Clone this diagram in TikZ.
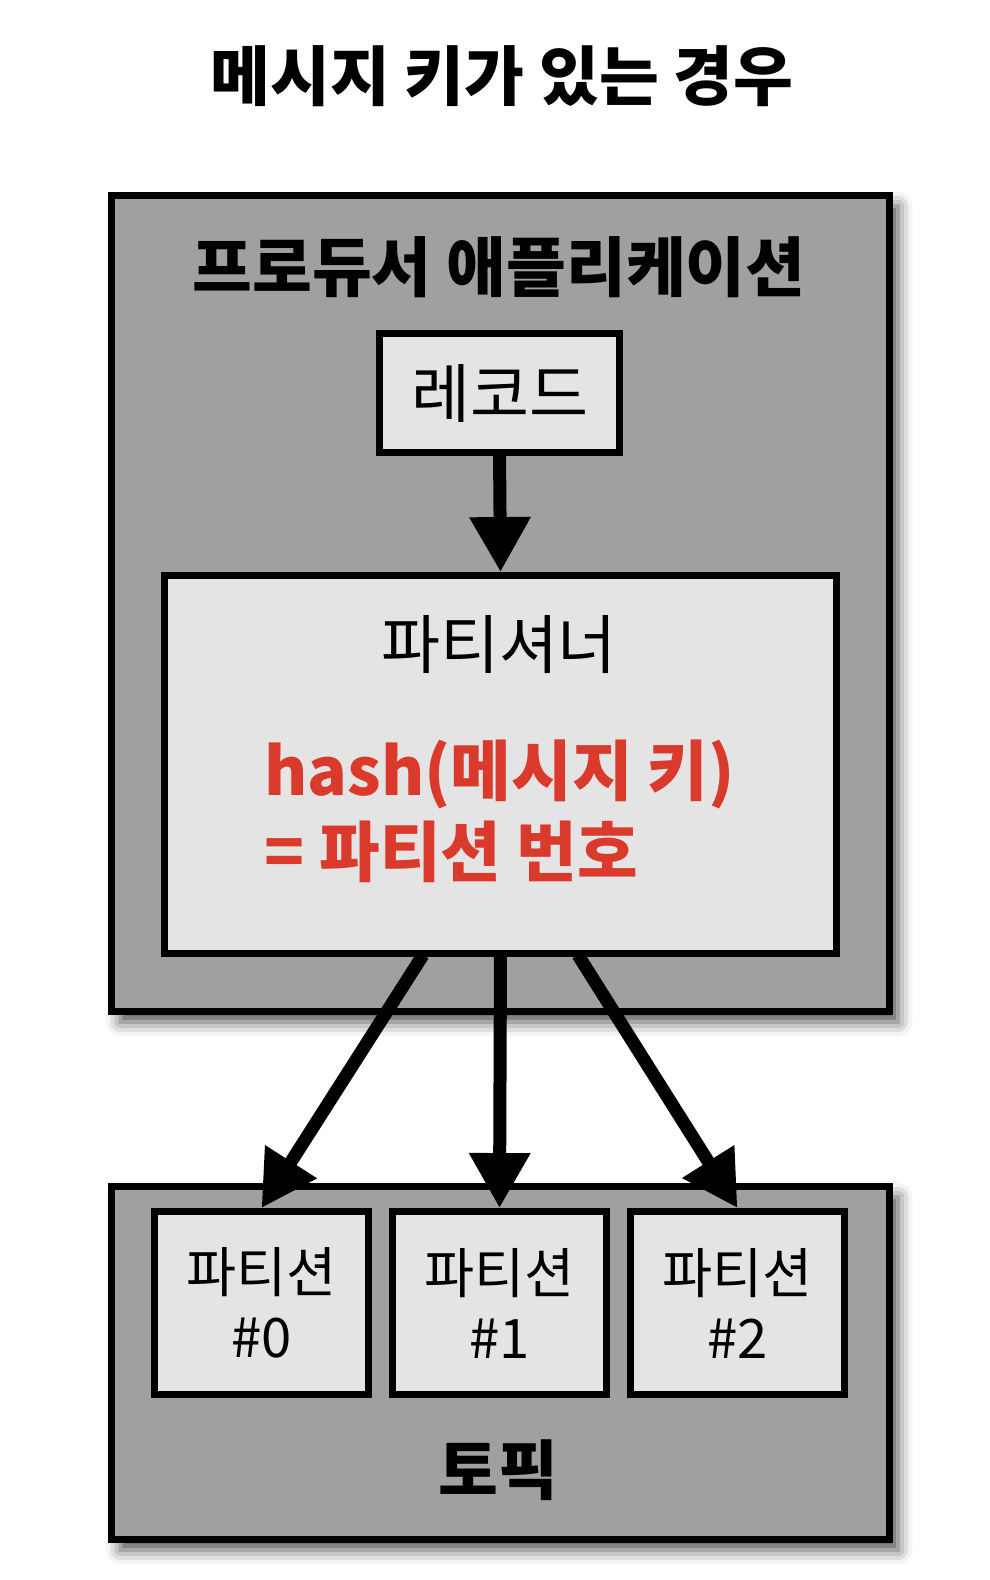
\documentclass[tikz,border=0pt]{standalone}
\usepackage{fontspec}
\setmainfont{Noto Sans CJK KR}
\usepackage{xcolor}
\usetikzlibrary{arrows.meta, positioning, shadows.blur}
\definecolor{boxgray}{HTML}{A0A0A0}
\definecolor{cellgray}{HTML}{E4E4E4}
\definecolor{hashred}{HTML}{D93A2B}

\begin{document}
\begin{tikzpicture}[
    x=0.02cm, y=-0.02cm,
    outerbox/.style={draw=black, line width=0.14cm, fill=boxgray, inner sep=0pt,
                     blur shadow={shadow xshift=5pt, shadow yshift=-6pt,
                                  shadow blur radius=8pt, shadow opacity=70}},
    cell/.style={draw=black, line width=0.14cm, fill=cellgray, inner sep=0pt},
    heading/.style={font=\fontsize{37}{42}\selectfont\bfseries},
    plain/.style={font=\fontsize{36.5}{42}\selectfont},
    small/.style={font=\fontsize{31}{37}\selectfont, align=center},
    hashtext/.style={font=\fontsize{37.5}{44}\selectfont\bfseries, text=hashred,
                     anchor=west, inner sep=0pt},
    flow/.style={-{Triangle[length=1.1cm, width=1.16cm]}, line width=0.26cm},
  ]
  \useasboundingbox (0,0) rectangle (990,1580);

  \node[heading] (title) at (502,76) {메시지 키가 있는 경우};

  % producer side
  \node[outerbox, minimum width=15.56cm, minimum height=16.32cm] (producer) at (500.5,603.5) {};
  \node[heading] (prodlabel) at (499,267) {프로듀서 애플리케이션};
  \node[cell, plain, minimum width=4.80cm, minimum height=2.38cm] (record) at (499.5,393) {레코드};
  \node[cell, minimum width=13.44cm, minimum height=7.56cm] (parter) at (500.5,764.5) {};
  \node[plain] (partlabel) at (499,645) {파티셔너};
  \node[hashtext] (hashline) at (264,774) {hash(메시지 키)};
  \node[hashtext] (eqline) at (264,852) {= 파티션 번호};

  % topic side
  \node[outerbox, minimum width=15.56cm, minimum height=7.06cm] (topic) at (500.5,1363) {};
  \node[cell, small, minimum width=4.28cm, minimum height=3.66cm] (part0) at (261.5,1303) {파티션\\\#0};
  \node[cell, small, minimum width=4.28cm, minimum height=3.66cm] (part1) at (499.5,1303) {파티션\\\#1};
  \node[cell, small, minimum width=4.28cm, minimum height=3.66cm] (part2) at (737.5,1303) {파티션\\\#2};
  \node[heading] (topiclabel) at (498.5,1470) {토픽};

  \draw[flow] ([yshift=0.1cm]record.south) -- (parter.north);
  \draw[flow] ([xshift=-1.55cm, yshift=0.04cm]parter.south) -- (part0.north);
  \draw[flow] ([yshift=0.04cm]parter.south) -- (part1.north);
  \draw[flow] ([xshift=1.55cm, yshift=0.04cm]parter.south) -- (part2.north);
\end{tikzpicture}
\end{document}
